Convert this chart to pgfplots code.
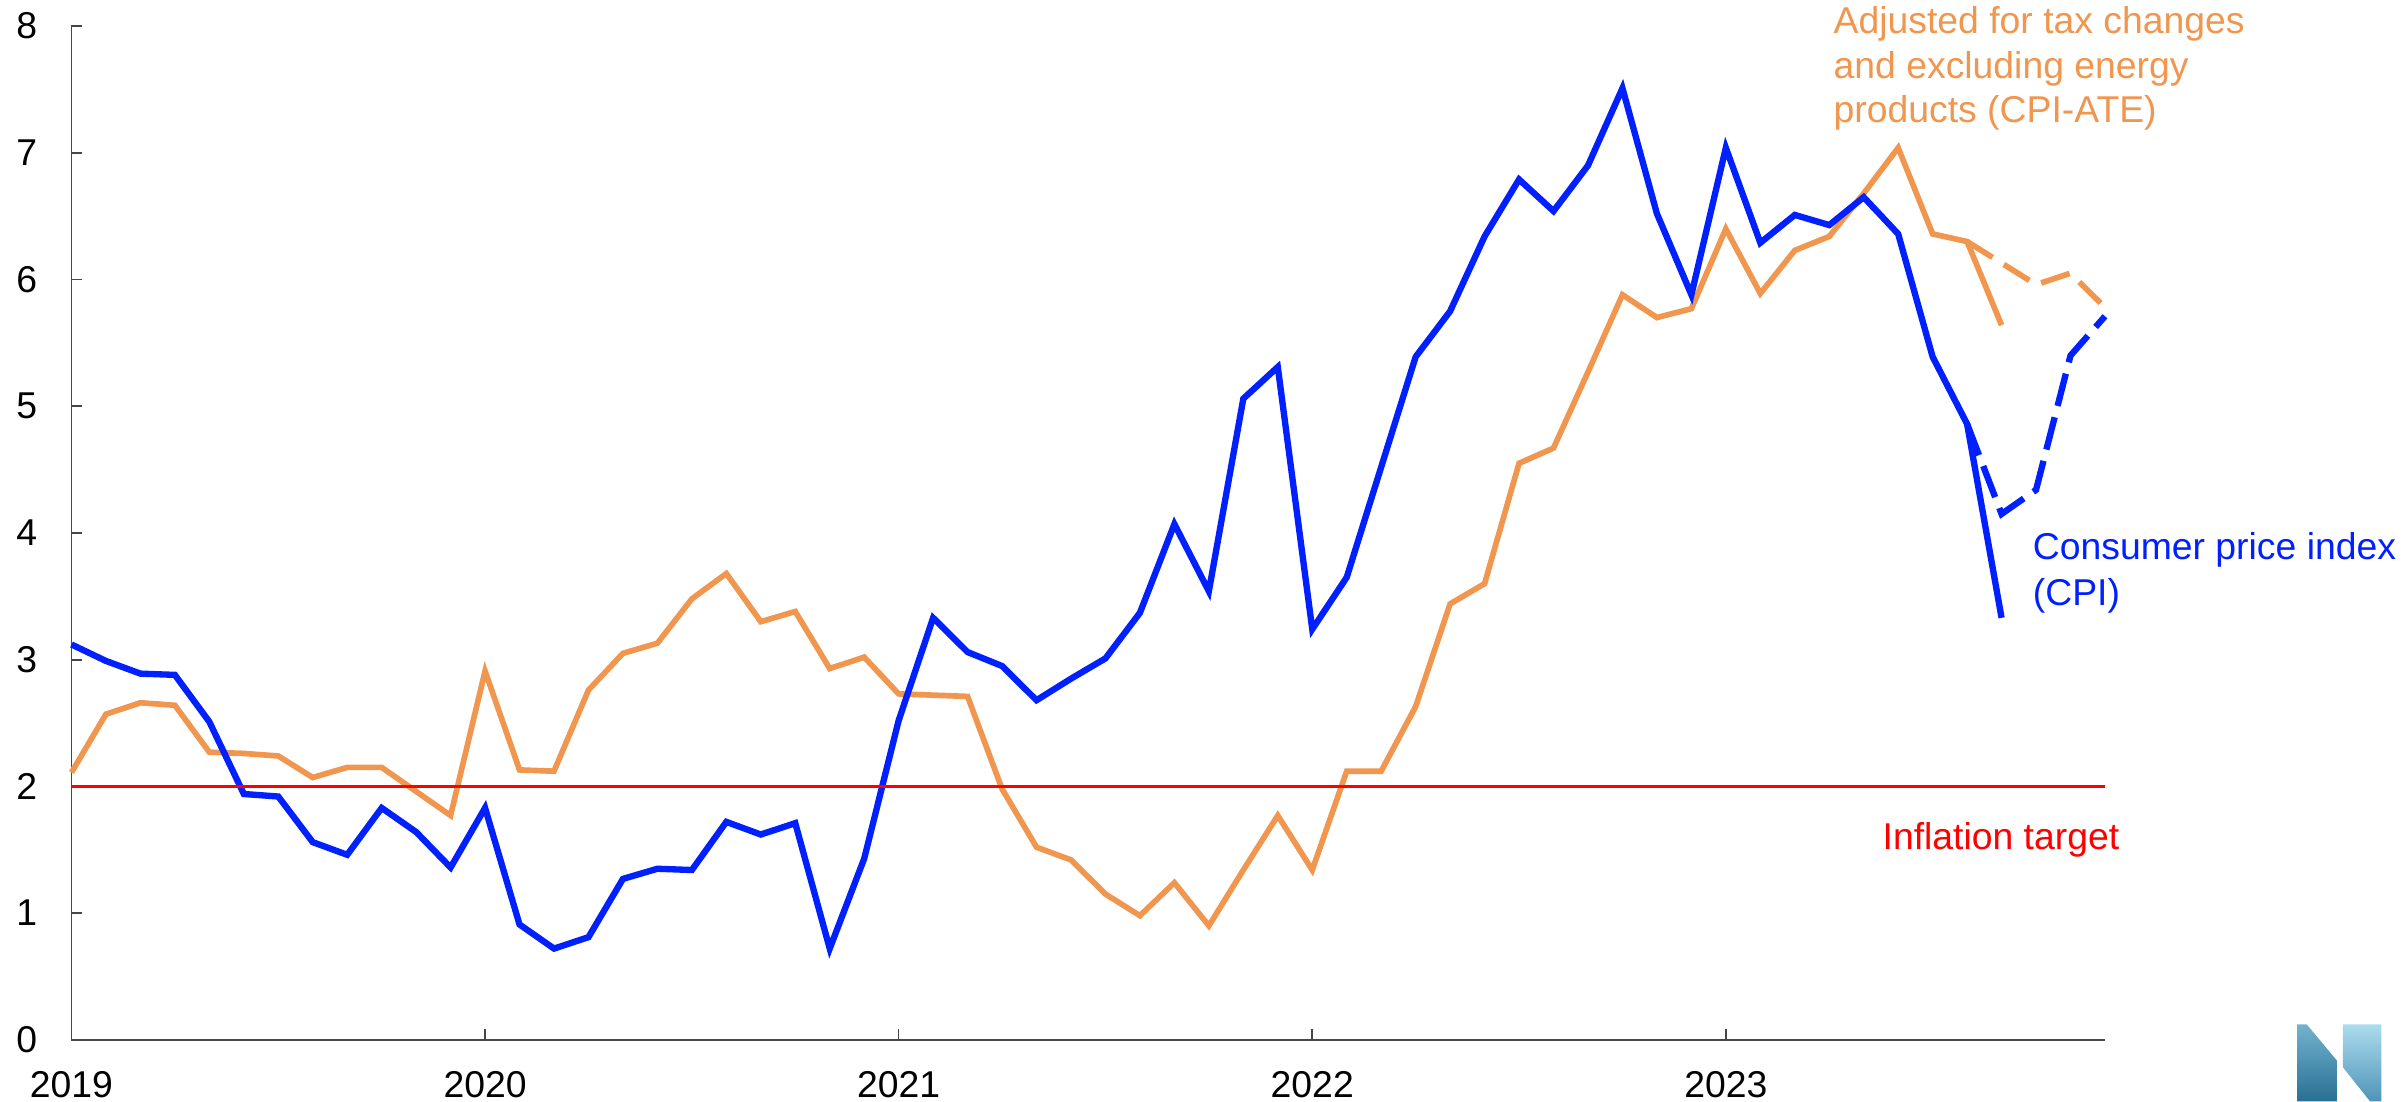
\documentclass[border=0pt]{standalone}
\usepackage{pgfplots}
\pgfplotsset{compat=1.18}
\usepackage{fontspec}
\setmainfont{Liberation Sans}
\definecolor{cpiblue}{RGB}{0,32,255}
\definecolor{ateorange}{RGB}{240,150,78}
\definecolor{tgtred}{RGB}{255,0,0}
\definecolor{axisgray}{RGB}{70,70,70}
\begin{document}
\fontsize{11.2bp}{13.3bp}\selectfont
\begin{tikzpicture}
\begin{axis}[
  at={(0,0)}, anchor=south west,
  scale only axis, width=609.96bp, height=304.06bp,
  xmin=0, xmax=59, ymin=0, ymax=8,
  axis x line*=bottom, axis y line*=left,
  axis line style={axisgray, line width=0.5bp},
  xtick={0,12,24,36,48}, xticklabels={2019,2020,2021,2022,2023},
  ytick={0,1,2,3,4,5,6,7,8},
  tick align=inside, major tick length=3.2bp,
  tick style={axisgray, line width=0.5bp},
  ticklabel style={font=\fontsize{11.2bp}{13.3bp}\selectfont, text=black},
  xticklabel style={inner sep=0pt, anchor=north, yshift=-9.3bp},
  yticklabel style={inner sep=0pt, anchor=east, xshift=-10.1bp},
  /pgf/number format/assume math mode=true,
  clip=false,
]
% CPI-ATE
\addplot[ateorange, line width=1.7bp] coordinates {
(0,2.11) (1,2.57) (2,2.66) (3,2.64) (4,2.27) (5,2.26) (6,2.24) (7,2.07) (8,2.15) (9,2.15) (10,1.96) (11,1.77)
(12,2.91) (13,2.13) (14,2.12) (15,2.76) (16,3.05) (17,3.13) (18,3.48) (19,3.68) (20,3.30) (21,3.38) (22,2.93) (23,3.02)
(24,2.73) (25,2.72) (26,2.71) (27,1.98) (28,1.52) (29,1.42) (30,1.15) (31,0.98) (32,1.24) (33,0.90) (34,1.34) (35,1.77)
(36,1.34) (37,2.12) (38,2.12) (39,2.63) (40,3.44) (41,3.60) (42,4.55) (43,4.67) (44,5.27) (45,5.88) (46,5.70) (47,5.77)
(48,6.40) (49,5.89) (50,6.23) (51,6.34) (52,6.68) (53,7.04) (54,6.36) (55,6.30) (56,5.64)
};
\addplot[ateorange, line width=1.7bp, dash pattern=on 9bp off 4bp] coordinates {
(55,6.30) (56,6.13) (57,5.96) (58,6.05) (59,5.78)
};
% CPI
\addplot[cpiblue, line width=1.9bp] coordinates {
(0,3.12) (1,2.99) (2,2.89) (3,2.88) (4,2.51) (5,1.94) (6,1.92) (7,1.56) (8,1.46) (9,1.83) (10,1.64) (11,1.36)
(12,1.83) (13,0.91) (14,0.72) (15,0.81) (16,1.27) (17,1.35) (18,1.34) (19,1.72) (20,1.62) (21,1.71) (22,0.72) (23,1.43)
(24,2.52) (25,3.33) (26,3.06) (27,2.95) (28,2.68) (29,2.85) (30,3.01) (31,3.37) (32,4.07) (33,3.54) (34,5.06) (35,5.31)
(36,3.24) (37,3.65) (38,4.52) (39,5.39) (40,5.75) (41,6.34) (42,6.79) (43,6.54) (44,6.90) (45,7.51) (46,6.52) (47,5.88)
(48,7.04) (49,6.29) (50,6.51) (51,6.43) (52,6.65) (53,6.36) (54,5.39) (55,4.86) (56,3.33)
};
\addplot[cpiblue, line width=1.9bp, dash pattern=on 10bp off 3.5bp] coordinates {
(55,4.86) (56,4.15) (57,4.34) (58,5.40) (59,5.71)
};
% Inflation target
\addplot[tgtred, line width=0.7bp] coordinates {(0,2) (59,2)};
% Labels
\node[anchor=base west, inner sep=0pt, text=ateorange] at (axis cs:51.11,7.94) {Adjusted for tax changes};
\node[anchor=base west, inner sep=0pt, text=ateorange] at (axis cs:51.11,7.59) {and excluding energy};
\node[anchor=base west, inner sep=0pt, text=ateorange] at (axis cs:51.11,7.24) {products (CPI-ATE)};
\node[anchor=base west, inner sep=0pt, text=cpiblue] at (axis cs:56.89,3.79) {Consumer price index};
\node[anchor=base west, inner sep=0pt, text=cpiblue] at (axis cs:56.89,3.43) {(CPI)};
\node[anchor=base west, inner sep=0pt, text=tgtred] at (axis cs:52.53,1.50) {Inflation target};
\end{axis}
% logo
\shade[top color={rgb,255:red,115;green,178;blue,206}, bottom color={rgb,255:red,40;green,112;blue,148}]
  (667.6bp,4.6bp) -- (670.5bp,4.6bp) -- (679.5bp,-6.2bp) -- (679.5bp,-18.5bp) -- (667.6bp,-18.5bp) -- cycle;
\shade[top color={rgb,255:red,172;green,220;blue,238}, bottom color={rgb,255:red,78;green,148;blue,184}]
  (681.3bp,4.6bp) -- (692.9bp,4.6bp) -- (692.9bp,-18.5bp) -- (689.5bp,-18.5bp) -- (681.3bp,-8.2bp) -- cycle;
\pgfresetboundingbox
\path[use as bounding box] (-21.44bp,-18.5bp) rectangle (699.66bp,311.9bp);
\end{tikzpicture}
\end{document}
